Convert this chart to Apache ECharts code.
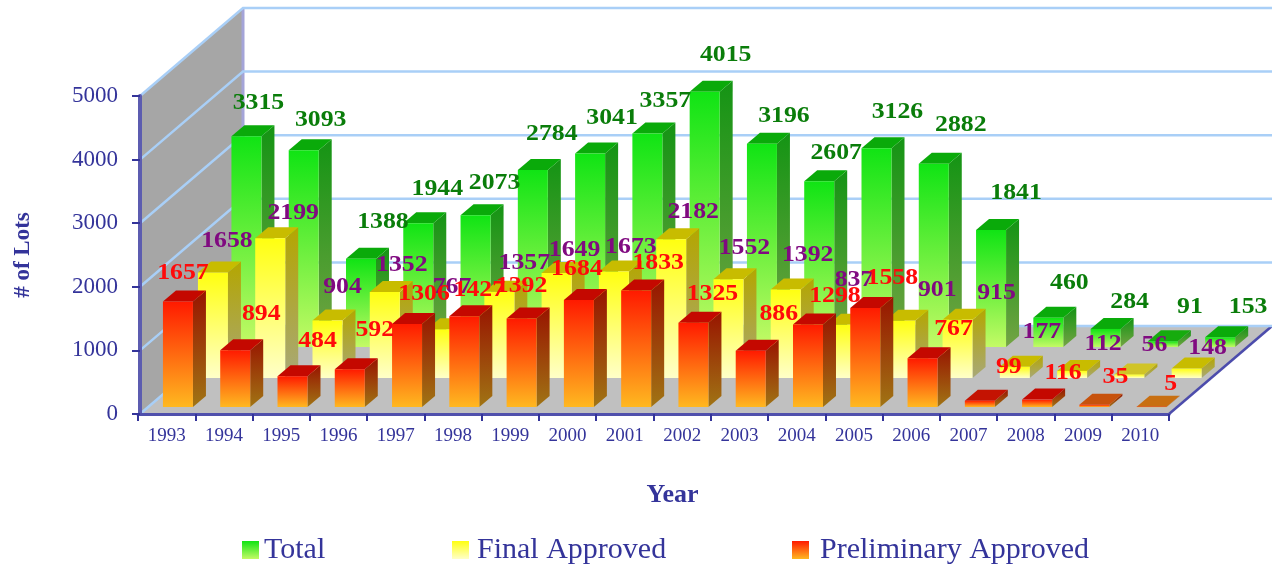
<!DOCTYPE html>
<html><head><meta charset="utf-8">
<style>html,body{margin:0;padding:0;background:#fff}#c{width:1272px;height:565px}</style>
<script src="https://cdn.jsdelivr.net/npm/echarts@6/dist/echarts.min.js"></script>
</head><body><div id="c"></div>
<script>
const years = ['1993','1994','1995','1996','1997','1998','1999','2000','2001','2002','2003','2004','2005','2006','2007','2008','2009','2010'];
const total = [3315,3093,1388,1944,2073,2784,3041,3357,4015,3196,2607,3126,2882,1841,460,284,91,153];
const finalApproved = [1658,2199,904,1352,767,1357,1649,1673,2182,1552,1392,837,901,915,177,112,56,148];
const preliminary = [1657,894,484,592,1306,1427,1392,1684,1833,1325,886,1298,1558,767,99,116,35,5];
const yTicks = [0,1000,2000,3000,4000,5000];

// label placement relative to each bar's top (styling only)
const totalNudgeX = [12,17,22,19,19,19,22,18,21,22,17,21,27,25,21,24,27,28];
const totalNudgeY = [-33,-30,-37,-34,-32,-36,-36,-32,-37,-28,-28,-36,-39,-37,-35,-27,-34,-30];
const finalNudgeX = [14,23,15,17,10,25,18,17,22,16,22,11,37,39,27,31,25,21];
const finalNudgeY = [-31,-25,-33,-27,-42,-29,-23,-25,-27,-31,-34,-45,-31,-27,-35,-27,-29,-21];
const prelimNudgeX = [5,26,25,25,17,15,0,-2,22,19,28,27,27,31,29,26,21,19];
const prelimNudgeY = [-29,-36,-35,-39,-30,-26,-32,-31,-27,-29,-37,-28,-30,-29,-34,-27,-28,-23];

const BAR_W = 30, DEPTH_X = 13, DEPTH_Y = 11;
const WALL_X = 103, WALL_Y = 88;
const INK = '#34349a';
const SERIF = '"Liberation Serif", serif';

function vgrad(a, b) {
  return {type:'linear', x:0, y:0, x2:0, y2:1, colorStops:[{offset:0,color:a},{offset:1,color:b}]};
}
function mix(a, b, t) {
  const p = s => [1,3,5].map(k => parseInt(s.slice(k,k+2),16));
  const A = p(a), B = p(b);
  return 'rgb(' + A.map((v,i)=>Math.round(B[i]+(v-B[i])*t)).join(',') + ')';
}
const looks = {
  total:  {dx:79.8, dy:-67, text:'#0a7d0a', front:['#10e414','#c4fa66'], side:['#149414','#74a444'], top:['#0aaa0a','#50b020']},
  final:  {dx:46.3, dy:-36, text:'#800a80', front:['#ffff10','#ffffc8'], side:['#b4a600','#a8a878'], top:['#c8bc00','#d8cc50']},
  prelim: {dx:11.3, dy:-7,  text:'#ff0a0a', front:['#ff1a00','#ffb820'], side:['#981400','#a07414'], top:['#c40800','#c87412']}
};

function barRenderer(look) {
  return function (params, api) {
    const v = api.value(1);
    const base = api.coord([api.value(0), 0]);
    const top = api.coord([api.value(0), v]);
    const xl = base[0] + look.dx - BAR_W / 2, xr = xl + BAR_W;
    const yb = base[1] + look.dy, yt = top[1] + look.dy;
    const t = Math.min(v / 110, 1);
    return {type:'group', children:[
      {type:'polygon', shape:{points:[[xr,yt],[xr+DEPTH_X,yt-DEPTH_Y],[xr+DEPTH_X,yb-DEPTH_Y],[xr,yb]]},
        style:{fill:vgrad(look.side[0], look.side[1])}},
      {type:'polygon', shape:{points:[[xl,yt],[xr,yt],[xr+DEPTH_X,yt-DEPTH_Y],[xl+DEPTH_X,yt-DEPTH_Y]]},
        style:{fill:mix(look.top[0], look.top[1], t)}},
      {type:'rect', shape:{x:xl, y:yt, width:BAR_W, height:Math.max(yb-yt,0.5)},
        style:{fill:vgrad(look.front[0], look.front[1])}}
    ]};
  };
}
function labelRenderer(look, nx, ny) {
  return function (params, api) {
    const i = api.value(0), v = api.value(1);
    const base = api.coord([i, 0]), top = api.coord([i, v]);
    return {type:'text', x: base[0] + look.dx + nx[i], y: top[1] + look.dy + ny[i], scaleX:1.12,
      style:{text:String(v), fill:look.text, font:'bold 23px ' + SERIF, textAlign:'center', textVerticalAlign:'middle'}};
  };
}
function wallRenderer(params, api) {
  const v = api.value(0);
  const cs = params.coordSys;
  const y = api.coord([0, v])[1];
  const x0 = cs.x + 2, x1 = cs.x + cs.width;
  const yz = api.coord([0, 0])[1], ym = api.coord([0, 5000])[1];
  const kids = [];
  if (v === 0) {
    kids.push({type:'polygon', shape:{points:[[x0,yz],[x0+WALL_X,yz-WALL_Y],[x1+WALL_X,yz-WALL_Y],[x1,yz]]},
      style:{fill:'#c0c0c0'}});
    kids.push({type:'polygon', shape:{points:[[x0,ym],[x0+WALL_X,ym-WALL_Y],[x0+WALL_X,yz-WALL_Y],[x0,yz]]},
      style:{fill:'#a6a6a6'}});
    kids.push({type:'line', shape:{x1:x0+WALL_X,y1:ym-WALL_Y,x2:x0+WALL_X,y2:yz-WALL_Y},
      style:{stroke:'#a4a4d8', lineWidth:3}});
    kids.push({type:'line', shape:{x1:x1,y1:yz,x2:x1+WALL_X,y2:yz-WALL_Y},
      style:{stroke:'#4c4cac', lineWidth:2.5}});
  }
  kids.push({type:'polyline', shape:{points:[[x0,y],[x0+WALL_X,y-WALL_Y],[x1+WALL_X,y-WALL_Y]]},
    style:{fill:'none', stroke:'#a9cff7', lineWidth:2.5}});
  return {type:'group', children:kids};
}
const pts = arr => arr.map((v,i)=>[i,v]);

const chart = echarts.init(document.getElementById('c'), null, {renderer:'canvas'});
const legendItem = (name, left, pad) => ({
  left:left, top:530, orient:'horizontal', itemWidth:17, itemHeight:18, icon:'rect',
  textStyle:{fontFamily:SERIF, fontSize:30, color:INK, padding:[0,0,0,pad]}, data:[name]
});
chart.setOption({
  animation:false,
  backgroundColor:'#fff',
  grid:{left:138, top:96, width:1031, height:318, containLabel:false},
  xAxis:{type:'category', data:years, boundaryGap:true, z:6,
    axisLine:{show:true, lineStyle:{color:'#5050ac', width:3}},
    axisTick:{show:true, alignWithLabel:false, length:7, lineStyle:{color:'#34349a', width:2}},
    axisLabel:{fontFamily:SERIF, fontSize:19, color:INK, margin:13, interval:0},
    name:'Year', nameLocation:'middle', nameGap:68,
    nameTextStyle:{fontFamily:SERIF, fontWeight:'bold', fontSize:26, color:INK, padding:[0,0,0,38]}
  },
  yAxis:{type:'value', min:0, max:5000, interval:1000, z:6, offset:-2,
    axisLine:{show:true, lineStyle:{color:'#5c5cb0', width:4}},
    axisTick:{show:true, length:8, lineStyle:{color:'#34349a', width:2}},
    splitLine:{show:false},
    axisLabel:{fontFamily:SERIF, fontSize:23, color:INK, margin:22, formatter:function(v){return String(v);}},
    name:'# of Lots', nameLocation:'middle', nameGap:105,
    nameTextStyle:{fontFamily:SERIF, fontWeight:'bold', fontSize:23, color:INK}
  },
  legend:[
    legendItem('Total', 237, 0),
    legendItem('Final Approved', 447, 3),
    legendItem('Preliminary Approved', 787, 6)
  ],
  series:[
    {type:'custom', name:'walls', z:1, silent:true, renderItem:wallRenderer, data:yTicks.map(v=>[v]), encode:{y:0}},
    {type:'custom', name:'Total', z:2, renderItem:barRenderer(looks.total), data:pts(total), encode:{x:0,y:1},
      itemStyle:{color:vgrad(looks.total.front[0],looks.total.front[1])}},
    {type:'custom', name:'Final Approved', z:3, renderItem:barRenderer(looks.final), data:pts(finalApproved), encode:{x:0,y:1},
      itemStyle:{color:vgrad(looks.final.front[0],looks.final.front[1])}},
    {type:'custom', name:'Preliminary Approved', z:4, renderItem:barRenderer(looks.prelim), data:pts(preliminary), encode:{x:0,y:1},
      itemStyle:{color:vgrad(looks.prelim.front[0],looks.prelim.front[1])}},
    {type:'custom', name:'totalLabels', z:7, silent:true, renderItem:labelRenderer(looks.total,totalNudgeX,totalNudgeY), data:pts(total), encode:{x:0,y:1}},
    {type:'custom', name:'finalLabels', z:8, silent:true, renderItem:labelRenderer(looks.final,finalNudgeX,finalNudgeY), data:pts(finalApproved), encode:{x:0,y:1}},
    {type:'custom', name:'prelimLabels', z:9, silent:true, renderItem:labelRenderer(looks.prelim,prelimNudgeX,prelimNudgeY), data:pts(preliminary), encode:{x:0,y:1}}
  ]
});
</script></body></html>
